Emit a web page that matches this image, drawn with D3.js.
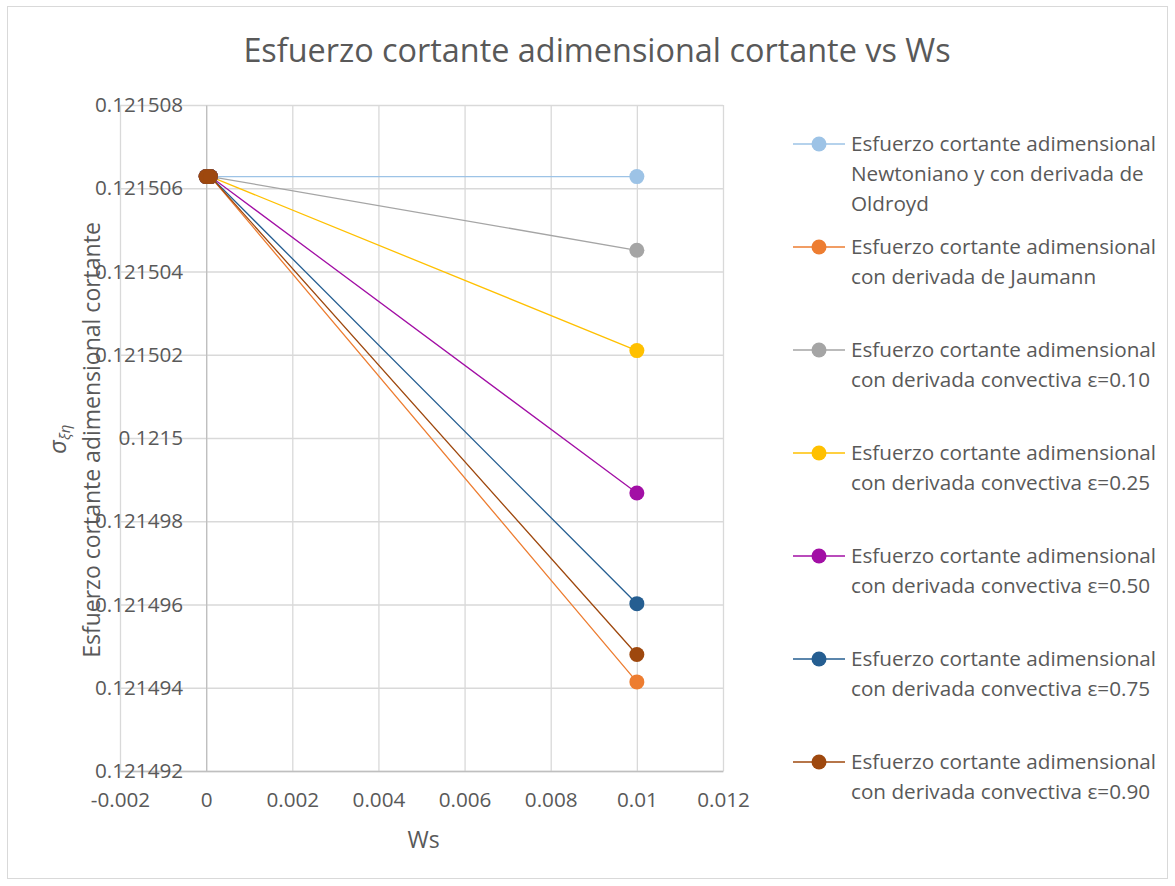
<!DOCTYPE html>
<html><head><meta charset="utf-8">
<script src="https://cdn.jsdelivr.net/npm/d3@7"></script>
<style>
body{margin:0;background:#fff}
svg text{font-family:'Open Sans',sans-serif;fill:#595959}
</style>
</head><body>
<svg id="chart" width="1175" height="886"></svg>
<script>
// ---------- data ----------
const wsValues = [0, 0.0001, 0.01];
const newtoniano = [0.12150628, 0.12150628, 0.12150628];
const jaumann    = [0.12150628, 0.12150628, 0.12149414];
const conv010    = [0.12150628, 0.12150628, 0.12150451];
const conv025    = [0.12150628, 0.12150628, 0.12150210];
const conv050    = [0.12150628, 0.12150628, 0.12149868];
const conv075    = [0.12150628, 0.12150628, 0.12149602];
const conv090    = [0.12150628, 0.12150628, 0.12149480];
const seriesValues = [newtoniano, jaumann, conv010, conv025, conv050, conv075, conv090];
const seriesNames = [
  ["Esfuerzo cortante adimensional", "Newtoniano y con derivada de", "Oldroyd"],
  ["Esfuerzo cortante adimensional", "con derivada de Jaumann"],
  ["Esfuerzo cortante adimensional", "con derivada convectiva ε=0.10"],
  ["Esfuerzo cortante adimensional", "con derivada convectiva ε=0.25"],
  ["Esfuerzo cortante adimensional", "con derivada convectiva ε=0.50"],
  ["Esfuerzo cortante adimensional", "con derivada convectiva ε=0.75"],
  ["Esfuerzo cortante adimensional", "con derivada convectiva ε=0.90"]
];
const xTicks = [-0.002, 0, 0.002, 0.004, 0.006, 0.008, 0.01, 0.012];
const xTickLabels = ["-0.002", "0", "0.002", "0.004", "0.006", "0.008", "0.01", "0.012"];
const yTicks = [0.121492, 0.121494, 0.121496, 0.121498, 0.1215, 0.121502, 0.121504, 0.121506, 0.121508];
const yTickLabels = ["0.121492", "0.121494", "0.121496", "0.121498", "0.1215", "0.121502", "0.121504", "0.121506", "0.121508"];

// ---------- styles ----------
const colors = ["#9DC3E6", "#ED7D31", "#A5A5A5", "#FFC000", "#A20FA5", "#255E91", "#9E480E"];

// ---------- layout ----------
const L = 120, R = 723, T = 105, B = 771;
const svg = d3.select("#chart");

svg.append("rect").attr("x", 7.5).attr("y", 6.5).attr("width", 1160).attr("height", 872)
  .attr("fill", "#fff").attr("stroke", "#d9d9d9").attr("stroke-width", 1);

const x = d3.scaleLinear().domain([-0.002, 0.012]).range([L, R]);
const y = d3.scaleLinear().domain([0.121492, 0.121508]).range([B, T]);

// gridlines
svg.append("g").attr("transform", `translate(0,${B})`)
  .call(d3.axisBottom(x).tickValues(xTicks).tickSize(-(B - T)).tickFormat(""))
  .call(g => g.select(".domain").remove())
  .call(g => g.selectAll("line").attr("stroke", "#d9d9d9").attr("stroke-width", 1.3));
svg.append("g").attr("transform", `translate(${L},0)`)
  .call(d3.axisLeft(y).tickValues(yTicks).tickSize(-(R - L)).tickFormat(""))
  .call(g => g.select(".domain").remove())
  .call(g => g.selectAll("line").attr("stroke", "#d9d9d9").attr("stroke-width", 1.3));

// x axis
svg.append("g").attr("transform", `translate(0,${B})`)
  .call(d3.axisBottom(x).tickValues(xTicks).tickFormat((d, i) => xTickLabels[i]).tickSize(0).tickSizeOuter(0).tickPadding(21))
  .call(g => g.select(".domain").attr("stroke", "#bfbfbf").attr("stroke-width", 1.3))
  .call(g => g.selectAll("text").attr("font-size", 20.7).attr("font-family", "'Open Sans',sans-serif").attr("fill", "#595959"));

// y axis at x = 0
svg.append("g").attr("transform", `translate(${x(0)},0)`)
  .call(d3.axisLeft(y).tickValues(yTicks).tickFormat((d, i) => yTickLabels[i]).tickSize(0).tickSizeOuter(0).tickPadding(23))
  .call(g => g.select(".domain").attr("stroke", "#bfbfbf").attr("stroke-width", 1.3))
  .call(g => g.selectAll("text").attr("font-size", 20.7).attr("font-family", "'Open Sans',sans-serif").attr("fill", "#595959"));

// series
const line = d3.line().x(d => x(d[0])).y(d => y(d[1]));
seriesValues.forEach((vals, si) => {
  const pts = wsValues.map((w, i) => [w, vals[i]]);
  const g = svg.append("g");
  g.append("path").attr("d", line(pts)).attr("fill", "none")
    .attr("stroke", colors[si]).attr("stroke-width", 1.3);
  g.selectAll("circle").data(pts).join("circle")
    .attr("cx", d => x(d[0])).attr("cy", d => y(d[1])).attr("r", 7.5)
    .attr("fill", colors[si]);
});

// title
svg.append("text").attr("x", 597).attr("y", 62).attr("text-anchor", "middle")
  .attr("font-size", 32.4).text("Esfuerzo cortante adimensional cortante vs Ws");

// axis titles
svg.append("text").attr("x", (L + R) / 2 + 2).attr("y", 848).attr("text-anchor", "middle")
  .attr("font-size", 23).text("Ws");
svg.append("text").attr("transform", `translate(100,${(T + B) / 2 + 2}) rotate(-90)`)
  .attr("text-anchor", "middle").attr("font-size", 23)
  .text("Esfuerzo cortante adimensional cortante");
const sig = svg.append("text").attr("transform", "translate(66,454) rotate(-90)")
  .attr("font-family", "'DejaVu Serif',serif").attr("font-style", "italic");
sig.append("tspan").attr("font-size", 24).text("σ");
sig.append("tspan").attr("font-size", 15).attr("dy", 4).text("ξη");

// legend
seriesNames.forEach((lines, si) => {
  const cy = 144 + 103 * si;
  const g = svg.append("g");
  g.append("line").attr("x1", 793).attr("x2", 845).attr("y1", cy).attr("y2", cy)
    .attr("stroke", colors[si]).attr("stroke-width", 1.3);
  g.append("circle").attr("cx", 819).attr("cy", cy).attr("r", 7.5).attr("fill", colors[si]);
  lines.forEach((t, li) => {
    g.append("text").attr("x", 851).attr("y", cy + 30 * li).attr("dy", "0.36em")
      .attr("font-size", 20.7).text(t);
  });
});
</script>
</body></html>
